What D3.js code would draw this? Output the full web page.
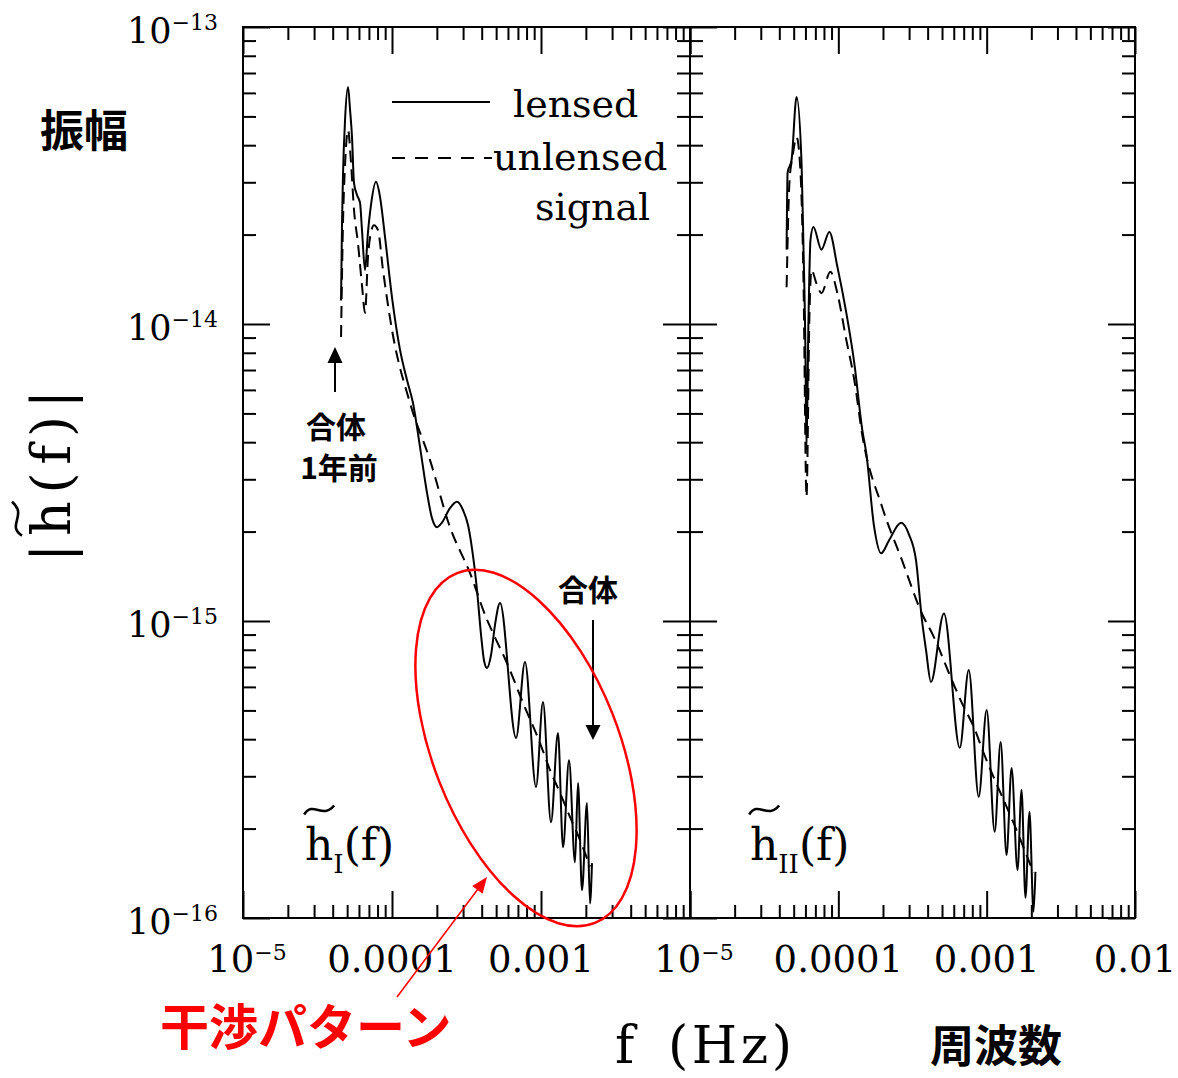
<!DOCTYPE html>
<html>
<head>
<meta charset="utf-8">
<script src="https://cdn.jsdelivr.net/npm/d3@7"></script>
<style>body{margin:0;background:#fff}</style>
</head>
<body>
<svg id="chart" width="1178" height="1078"></svg>
<script>
// |h(f)|, f in Hz
const leftLensedF = [4.55e-5, 4.62e-5, 4.69e-5, 4.84e-5, 5.07e-5, 5.23e-5, 5.39e-5, 5.56e-5, 5.82e-5, 6.10e-5,
  6.29e-5, 6.59e-5, 6.90e-5, 7.23e-5, 7.81e-5, 8.31e-5, 8.98e-5, 1.00e-4, 1.132e-4, 1.261e-4,
  1.383e-4, 1.542e-4, 1.718e-4, 1.855e-4, 2.004e-4, 2.17e-4, 2.45e-4, 2.73e-4, 3.00e-4, 3.24e-4,
  3.44e-4, 3.72e-4, 3.96e-4, 4.14e-4, 4.34e-4, 4.62e-4, 4.91e-4, 5.31e-4, 6.80e-4, 7.81e-4,
  9.26e-4, 1.031e-3, 1.167e-3, 1.300e-3, 1.406e-3, 1.542e-3, 1.691e-3, 1.771e-3, 1.884e-3, 2.035e-3,
  2.132e-3, 2.199e-3];
const leftLensedH = [1.20e-14, 2.20e-14, 3.18e-14, 4.86e-14, 6.28e-14, 5.26e-14, 4.26e-14, 2.98e-14, 2.72e-14, 2.56e-14,
  2.07e-14, 1.52e-14, 2.04e-14, 2.52e-14, 3.01e-14, 2.68e-14, 1.96e-14, 1.23e-14, 8.18e-15, 6.48e-15,
  5.42e-15, 3.85e-15, 2.70e-15, 2.22e-15, 2.07e-15, 2.15e-15, 2.40e-15, 2.52e-15, 2.36e-15, 2.10e-15,
  1.76e-15, 1.27e-15, 8.97e-16, 7.39e-16, 6.95e-16, 7.68e-16, 9.69e-16, 1.15e-15, 4.04e-16, 7.28e-16,
  2.76e-16, 5.34e-16, 2.10e-16, 4.20e-16, 1.73e-16, 3.40e-16, 1.54e-16, 2.85e-16, 1.24e-16, 2.44e-16,
  1.12e-16, 1.53e-16];

const leftUnlensedF = [4.55e-5, 4.69e-5, 4.84e-5, 5.07e-5, 5.31e-5, 5.56e-5, 5.91e-5, 6.29e-5, 6.59e-5, 6.90e-5,
  7.23e-5, 7.57e-5, 8.05e-5, 8.70e-5, 1.00e-4, 1.321e-4, 1.799e-4, 2.45e-4, 3.34e-4, 4.34e-4,
  4.76e-4, 5.91e-4, 7.57e-4, 9.85e-4, 1.149e-3, 1.341e-3, 1.565e-3, 1.827e-3, 2.132e-3];
const leftUnlensedH = [9.04e-15, 2.20e-14, 3.43e-14, 4.50e-14, 3.48e-14, 2.42e-14, 1.87e-14, 1.35e-14, 1.09e-14, 1.68e-14,
  2.04e-14, 2.15e-14, 2.07e-14, 1.52e-14, 9.55e-15, 5.42e-15, 3.48e-15, 2.07e-15, 1.45e-15, 1.01e-15,
  9.11e-16, 7.22e-16, 5.30e-16, 3.88e-16, 3.15e-16, 2.64e-16, 2.19e-16, 1.83e-16, 1.49e-16];

const rightLensedF = [4.48e-5, 4.55e-5, 4.84e-5, 5.23e-5, 5.65e-5, 5.82e-5, 6.00e-5, 6.10e-5, 6.29e-5, 6.49e-5,
  6.79e-5, 7.69e-5, 8.70e-5, 9.85e-5, 1.132e-4, 1.281e-4, 1.450e-4, 1.542e-4, 1.744e-4, 1.943e-4,
  2.199e-4, 2.65e-4, 3.00e-4, 3.34e-4, 3.66e-4, 3.90e-4, 4.21e-4, 5.15e-4, 6.59e-4, 7.57e-4,
  8.84e-4, 1.00e-3, 1.132e-3, 1.242e-3, 1.362e-3, 1.472e-3, 1.615e-3, 1.718e-3, 1.827e-3, 1.943e-3,
  2.068e-3, 2.132e-3];
const rightLensedH = [1.78e-14, 3.23e-14, 3.57e-14, 5.81e-14, 3.48e-14, 1.82e-14, 8.18e-15, 3.77e-15, 1.03e-14, 1.92e-14,
  2.12e-14, 1.78e-14, 2.04e-14, 1.56e-14, 1.09e-14, 7.39e-15, 4.40e-15, 3.68e-15, 2.07e-15, 1.69e-15,
  1.87e-15, 2.14e-15, 1.95e-15, 1.60e-15, 1.01e-15, 7.99e-16, 6.23e-16, 1.06e-15, 3.74e-16, 6.84e-16,
  2.56e-16, 5.02e-16, 1.95e-16, 3.91e-16, 1.63e-16, 3.20e-16, 1.45e-16, 2.70e-16, 1.17e-16, 2.28e-16,
  1.05e-16, 1.43e-16];

const rightUnlensedF = [4.48e-5, 4.69e-5, 4.91e-5, 5.23e-5, 5.56e-5, 5.82e-5, 6.10e-5, 6.39e-5, 6.59e-5, 7.12e-5,
  7.69e-5, 8.84e-5, 9.85e-5, 1.132e-4, 1.281e-4, 1.450e-4, 1.974e-4, 2.689e-4, 3.66e-4, 4.41e-4,
  5.82e-4, 6.80e-4, 8.18e-4, 9.55e-4, 1.114e-3, 1.300e-3, 1.518e-3, 1.771e-3, 2.068e-3];
const rightUnlensedH = [1.33e-14, 3.05e-14, 3.65e-14, 4.26e-14, 3.23e-14, 1.41e-14, 2.62e-15, 1.09e-14, 1.52e-14, 1.37e-14,
  1.27e-14, 1.50e-14, 1.27e-14, 8.83e-15, 6.48e-15, 4.23e-15, 2.42e-15, 1.60e-15, 1.06e-15, 8.83e-16,
  6.33e-16, 5.30e-16, 4.40e-16, 3.59e-16, 2.98e-16, 2.50e-16, 2.09e-16, 1.73e-16, 1.42e-16];

const xMajor = [1e-5, 1e-4, 1e-3, 1e-2];
const yMajor = [1e-16, 1e-15, 1e-14, 1e-13];
const xLabelsLeft = ['10^−5', '0.0001', '0.001', ''];
const xLabelsRight = ['10^−5', '0.0001', '0.001', '0.01'];
const yLabels = ['10^−16', '10^−15', '10^−14', '10^−13'];

const serif = "'DejaVu Serif', 'Liberation Serif', serif";
const cjk = "'Noto Sans CJK JP', 'Noto Sans CJK SC', sans-serif";

const svg = d3.select('#chart');
svg.append('rect').attr('width', 1178).attr('height', 1078).attr('fill', '#fff');

const plotTop = 27, plotBottom = 918;
const y = d3.scaleLog().domain([1e-16, 1e-13]).range([plotBottom, plotTop]);

const panels = [
  { x: d3.scaleLog().domain([1e-5, 1e-2]).range([243, 690]),
    lensed: [leftLensedF, leftLensedH], unlensed: [leftUnlensedF, leftUnlensedH],
    xLabels: xLabelsLeft, sub: 'I', labelX: 305 },
  { x: d3.scaleLog().domain([1e-5, 1e-2]).range([690, 1135]),
    lensed: [rightLensedF, rightLensedH], unlensed: [rightUnlensedF, rightUnlensedH],
    xLabels: xLabelsRight, sub: 'II', labelX: 750 }
];

const minorOf = majors => majors.slice(0, -1).flatMap(d => [2, 3, 4, 5, 6, 7, 8, 9].map(k => k * d));
const xMinor = minorOf(xMajor), yMinor = minorOf(yMajor);

function styleAxis(g) {
  g.select('.domain').remove();
  g.selectAll('.tick line').attr('stroke', '#000').attr('stroke-width', 2);
}

// label like "10^−5" -> base + superscript
function powerLabel(t, lab, fs, supFs, supDy) {
  const parts = lab.split('^');
  t.append('tspan').attr('font-size', fs).text(parts[0]);
  if (parts[1]) t.append('tspan').attr('font-size', supFs).attr('dy', supDy).text(parts[1]);
}

function tilde(parent, cx, cy, w, a) {
  const x0 = cx - w / 2;
  parent.append('path')
    .attr('d', `M${x0},${cy + a}C${x0 + w * 0.3},${cy - 2.2 * a} ${x0 + w * 0.6},${cy + 2.2 * a} ${x0 + w},${cy - a}`)
    .attr('fill', 'none').attr('stroke', '#000').attr('stroke-width', 2.6);
}

panels.forEach(p => {
  const g = svg.append('g');
  const [x0, x1] = p.x.range();

  [[xMinor, 13], [xMajor, 27]].forEach(([vals, len]) => {
    g.append('g').attr('transform', `translate(0,${plotBottom})`)
      .call(d3.axisBottom(p.x).tickValues(vals).tickSize(-len).tickFormat(''))
      .call(styleAxis);
    g.append('g').attr('transform', `translate(0,${plotTop})`)
      .call(d3.axisTop(p.x).tickValues(vals).tickSize(-len).tickFormat(''))
      .call(styleAxis);
  });
  [[yMinor, 13], [yMajor, 27]].forEach(([vals, len]) => {
    g.append('g').attr('transform', `translate(${x0},0)`)
      .call(d3.axisLeft(y).tickValues(vals).tickSize(-len).tickFormat(''))
      .call(styleAxis);
    g.append('g').attr('transform', `translate(${x1},0)`)
      .call(d3.axisRight(y).tickValues(vals).tickSize(-len).tickFormat(''))
      .call(styleAxis);
  });

  g.append('rect')
    .attr('x', x0).attr('y', plotTop)
    .attr('width', x1 - x0).attr('height', plotBottom - plotTop)
    .attr('fill', 'none').attr('stroke', '#000').attr('stroke-width', 2);

  const line = d3.line()
    .x(d => p.x(d[0]))
    .y(d => y(d[1]))
    .curve(d3.curveMonotoneX);

  g.append('path')
    .datum(d3.zip(p.unlensed[0], p.unlensed[1]))
    .attr('d', line)
    .attr('fill', 'none').attr('stroke', '#000').attr('stroke-width', 2)
    .attr('stroke-dasharray', '12,7');
  g.append('path')
    .datum(d3.zip(p.lensed[0], p.lensed[1]))
    .attr('d', line)
    .attr('fill', 'none').attr('stroke', '#000').attr('stroke-width', 2);

  // x tick labels
  p.xLabels.forEach((lab, j) => {
    if (!lab) return;
    const t = svg.append('text')
      .attr('x', p.x(xMajor[j]) + (lab.includes('^') ? 4 : 0))
      .attr('y', 972)
      .attr('text-anchor', 'middle')
      .attr('font-family', serif);
    powerLabel(t, lab, 37, 22, -12);
  });

  // h~_I(f) / h~_II(f)
  const ht = g.append('text')
    .attr('x', p.labelX).attr('y', 860)
    .attr('font-family', serif);
  ht.append('tspan').attr('font-size', 44).text('h');
  ht.append('tspan').attr('font-size', 26).attr('dy', 13).text(p.sub);
  ht.append('tspan').attr('font-size', 44).attr('dy', -13).text('(f)');
  const hb = ht.node().getExtentOfChar(0);
  tilde(g, hb.x + hb.width / 2, 810, 30, 4.5);
});

// y tick labels (left only)
yMajor.forEach((v, j) => {
  const t = svg.append('text')
    .attr('x', 218).attr('y', y(v) + 16)
    .attr('text-anchor', 'end')
    .attr('font-family', serif);
  powerLabel(t, yLabels[j], 35, 22, -13);
});

// y axis title |h~(f)|
const yt = svg.append('g').attr('transform', 'translate(70,476) rotate(-90)');
const ytText = yt.append('text')
  .attr('x', 0).attr('y', 0)
  .attr('text-anchor', 'middle')
  .attr('font-family', serif).attr('font-size', 54)
  .attr('textLength', 172).attr('lengthAdjust', 'spacing')
  .text('|h(f)|');
const yb = ytText.node().getExtentOfChar(1);
tilde(yt, yb.x + yb.width / 2, -53, 34, 5);

// legend
const lg = svg.append('g').attr('font-family', serif).attr('font-size', 38);
lg.append('line').attr('x1', 392).attr('x2', 490).attr('y1', 102).attr('y2', 102)
  .attr('stroke', '#000').attr('stroke-width', 2);
lg.append('text').attr('x', 513).attr('y', 117).text('lensed');
lg.append('line').attr('x1', 392).attr('x2', 492).attr('y1', 158).attr('y2', 158)
  .attr('stroke', '#000').attr('stroke-width', 2).attr('stroke-dasharray', '13,10');
lg.append('text').attr('x', 493).attr('y', 170).text('unlensed');
lg.append('text').attr('x', 535).attr('y', 220).text('signal');

// axis titles
svg.append('text').attr('x', 615).attr('y', 1063)
  .attr('font-family', serif).attr('font-size', 52).text('f');
svg.append('text').attr('x', 668).attr('y', 1063)
  .attr('font-family', serif).attr('font-size', 52)
  .attr('textLength', 124).attr('lengthAdjust', 'spacing').text('(Hz)');

const jp = (x, yy, fs, txt, color, anchor) => svg.append('text')
  .attr('x', x).attr('y', yy)
  .attr('font-family', cjk).attr('font-weight', 'bold')
  .attr('font-size', fs).attr('fill', color || '#000')
  .attr('text-anchor', anchor || 'start')
  .text(txt);

jp(40, 147, 44, '振幅');
jp(930, 1062, 44, '周波数');
jp(336, 438, 30, '合体', '#000', 'middle');
jp(339, 479, 30, '1年前', '#000', 'middle');
jp(588, 601, 30, '合体', '#000', 'middle');
jp(160, 1045, 49, '干渉パターン', '#f00');

// arrows
function arrow(x1, y1, x2, y2, color, sw, hl, hw) {
  const a = Math.atan2(y2 - y1, x2 - x1), ux = Math.cos(a), uy = Math.sin(a);
  const bx = x2 - hl * ux, by = y2 - hl * uy;
  svg.append('line')
    .attr('x1', x1).attr('y1', y1).attr('x2', bx + ux).attr('y2', by + uy)
    .attr('stroke', color).attr('stroke-width', sw);
  svg.append('path')
    .attr('d', `M${x2},${y2}L${bx - hw * uy},${by + hw * ux}L${bx + hw * uy},${by - hw * ux}Z`)
    .attr('fill', color);
}
arrow(335, 392, 335, 347, '#000', 2, 16, 7.5);
arrow(593, 620, 593, 740, '#000', 2, 15, 7.5);
arrow(397, 997, 487, 877, '#f00', 1.6, 16, 6.5);

// interference pattern ellipse
svg.append('ellipse')
  .attr('cx', 526).attr('cy', 748).attr('rx', 188).attr('ry', 93)
  .attr('transform', 'rotate(68.5,526,748)')
  .attr('fill', 'none').attr('stroke', '#f00').attr('stroke-width', 2.5);
</script>
</body>
</html>
